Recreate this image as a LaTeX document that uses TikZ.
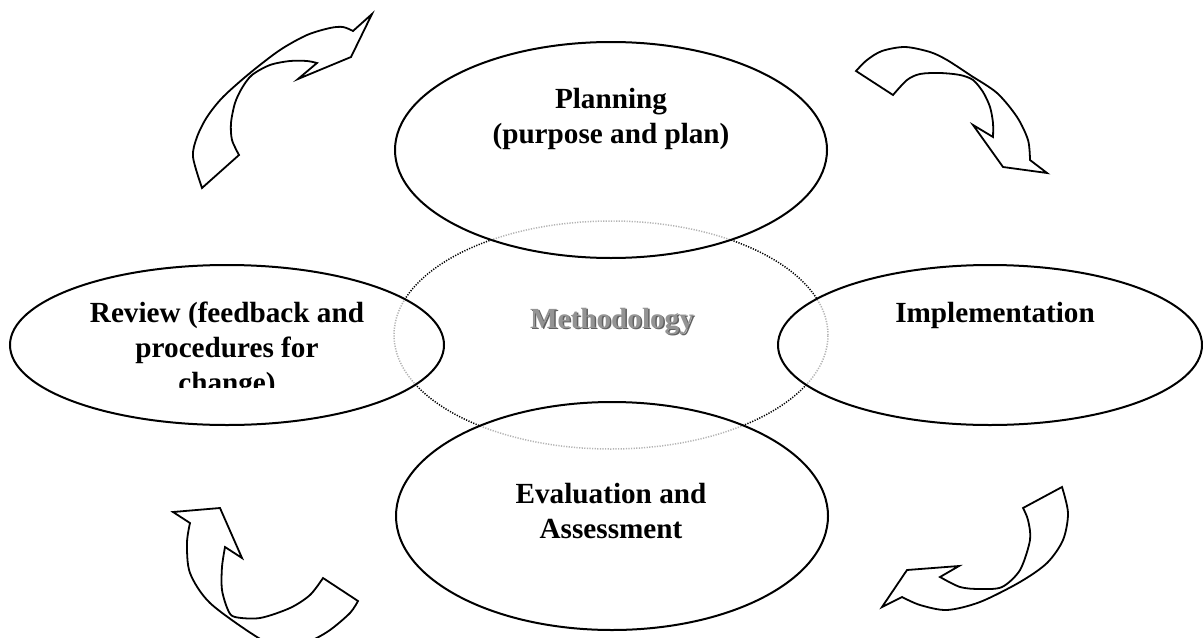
\documentclass[tikz,border=0pt]{standalone}
\usepackage{fontspec}
\setmainfont{Liberation Serif}
\usetikzlibrary{shapes.geometric}
\tikzset{
  blob/.style={ellipse, draw, line width=1pt, fill=white, fill opacity=0.7, draw opacity=1, inner sep=0pt, outer sep=0pt},
  meth/.style={ellipse, draw, line width=0.75pt, dash pattern=on 0.6pt off 0.7pt, inner sep=0pt},
  lbl/.style={font=\fontsize{14.6}{17.5}\selectfont\bfseries, anchor=base, inner sep=0pt},
  turn/.style={draw, line width=0.9pt, line join=miter, fill=white},
}
\begin{document}
\begin{tikzpicture}[x=0.5pt, y=-0.5pt]
\useasboundingbox (0,0) rectangle (1203,637);
\clip (0,0) rectangle (1203,637);

% central dotted ellipse
\node[meth, minimum width=217pt, minimum height=114pt] (meth) at (611,335) {};

% four phase ellipses
\node[blob, minimum width=216pt, minimum height=108pt] (plan) at (611,150) {};
\node[blob, minimum width=217pt, minimum height=80pt] (rev) at (227,345) {};
\node[blob, minimum width=212pt, minimum height=80pt] (imp) at (990,345) {};
\node[blob, minimum width=216pt, minimum height=114pt] (eval) at (612,516) {};

% labels
\node[lbl] (plan1) at (611,108) {Planning};
\node[lbl] (plan2) at (611,143) {(purpose and plan)};
\node[lbl] (rev1) at (227,322) {Review (feedback and};
\node[lbl] (rev2) at (227,357) {procedures for};
\begin{scope}
  \clip (0,360) rectangle (460,387);
  \node[lbl] (rev3) at (227,392) {change)};
\end{scope}
\node[lbl] (imp1) at (995,322) {Implementation};
\node[lbl] (eval1) at (611,503) {Evaluation and};
\node[lbl] (eval2) at (611,538) {Assessment};
\node[lbl, text=black!62] (meths) at (613.5,329.5) {Methodology};
\node[lbl, text=black!42] (metht) at (612,328) {Methodology};

% curved arrows
% top-left
\path[turn] (372,14) -- (351,57) -- (298,79) -- (317,63)
  -- plot[smooth] coordinates {(317,63) (307,61) (290,61) (270,65) (252,75) (242,88) (235,103) (231,123) (232,140) (239,155)}
  -- (202,188)
  -- plot[smooth] coordinates {(202,188) (193,157) (197,137) (207,117) (223,97) (250,73) (280,50) (307,35) (330,28) (343,27) (353,31)}
  -- cycle;
% top-right
\path[turn] (1047,173) -- (1003,167) -- (973,125) -- (993,137)
  -- plot[smooth] coordinates {(993,137) (993,123) (990,107) (983,92) (973,80) (960,75) (940,73) (920,74) (907,80) (893,95)}
  -- (856,71)
  -- plot[smooth] coordinates {(856,71) (867,60) (882,51) (905,47) (930,52) (947,60) (970,75) (997,93) (1017,117) (1028,140) (1030,160)}
  -- cycle;
% bottom-right
\path[turn] (1062,487)
  -- plot[smooth] coordinates {(1062,487) (1068,513) (1063,540) (1047,563) (1020,582) (980,602) (947,610) (920,605) (902,597)}
  -- (882,607) -- (907,570) -- (959,566) -- (940,577)
  -- plot[smooth] coordinates {(940,577) (960,587) (980,589) (1002,587) (1020,570) (1030,540) (1028,520) (1023,508)}
  -- cycle;
% bottom-left
\path[turn] (190,523) -- (173,512) -- (220,508) -- (242,558) -- (225,547)
  -- plot[smooth] coordinates {(225,547) (222,567) (222,590) (228,610) (235,617) (260,618) (290,608) (310,595) (323,578)}
  -- (358,601)
  -- plot[smooth] coordinates {(358,601) (350,613) (330,630) (310,641) (283,648) (257,637) (210,603) (190,573) (187,543) (190,523)}
  -- cycle;
\end{tikzpicture}
\end{document}
